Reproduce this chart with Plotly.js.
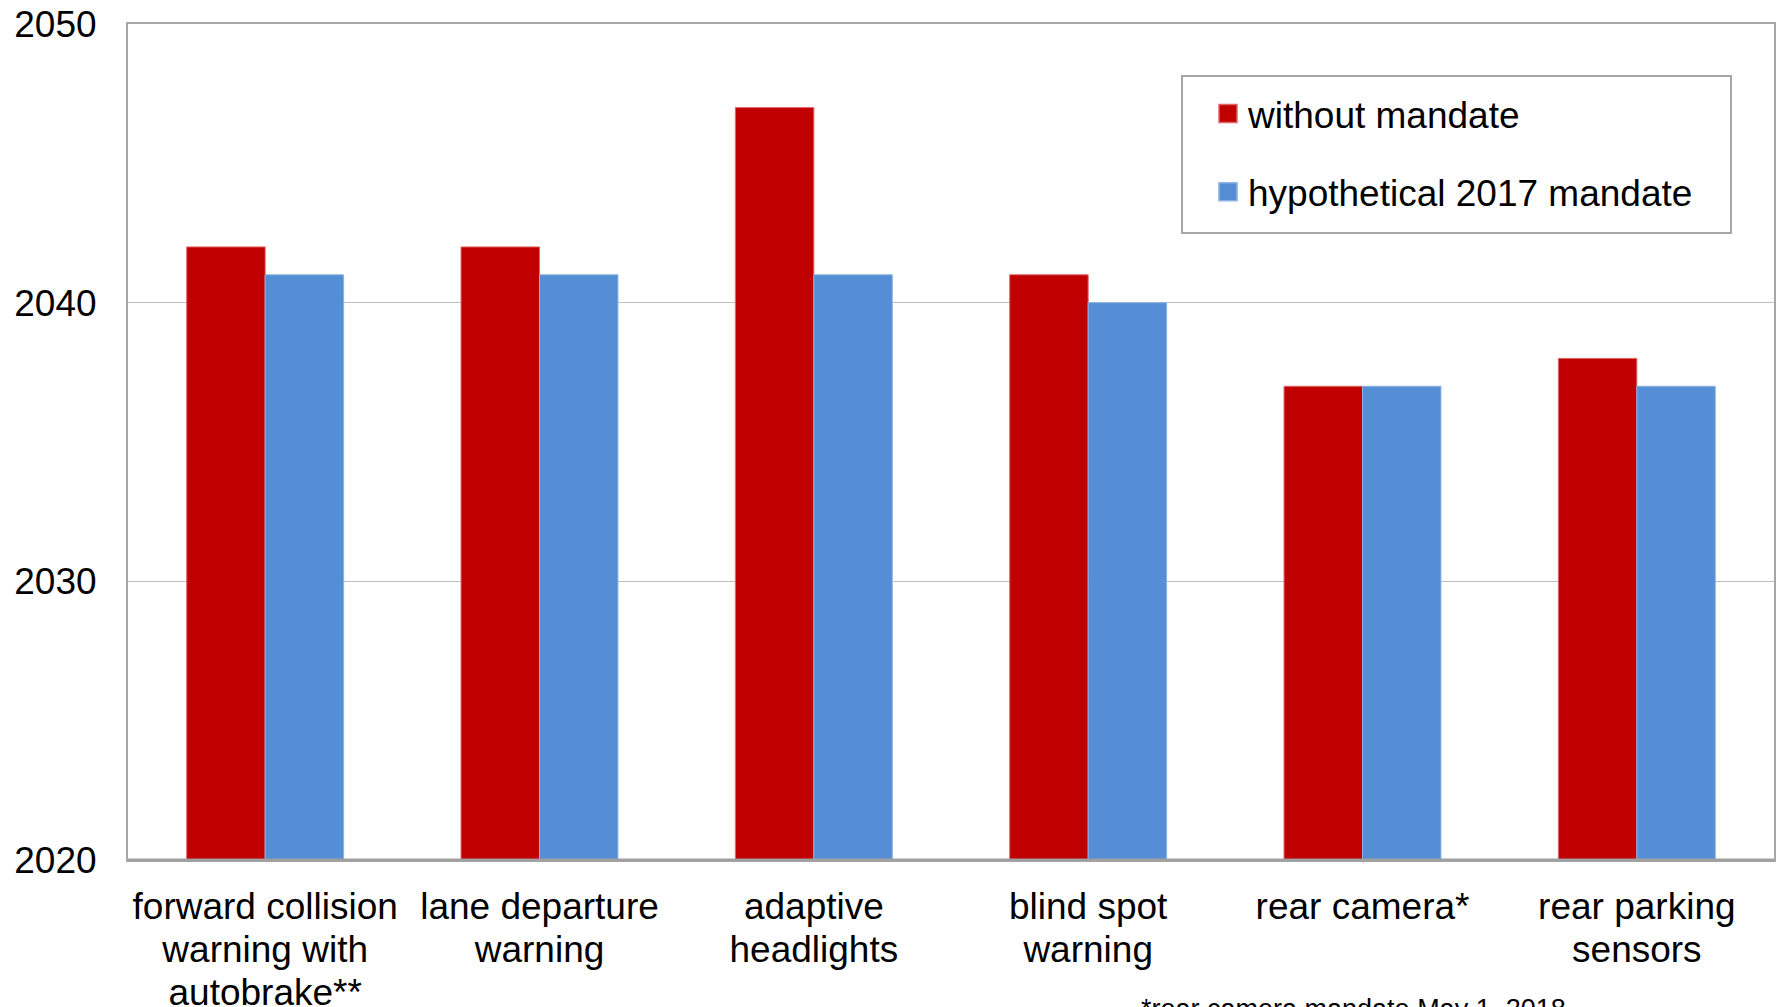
<!DOCTYPE html>
<html>
<head>
<meta charset="utf-8">
<script src="https://cdn.plot.ly/plotly-3.0.1.min.js"></script>
<style>html,body{margin:0;padding:0;background:#fff;}#chart{width:1781px;height:1007px;}</style>
</head>
<body>
<div id="chart"></div>
<script>
const categories = [
  "forward collision<br>warning with<br>autobrake**",
  "lane departure<br>warning",
  "adaptive<br>headlights",
  "blind spot<br>warning",
  "rear camera*",
  "rear parking<br>sensors"
];
const withoutMandate = [2042, 2042, 2047, 2041, 2037, 2038];
const hypothetical2017 = [2041, 2041, 2041, 2040, 2037, 2037];
const seriesNames = ["without mandate", "hypothetical 2017 mandate"];
const yTicks = [2020, 2030, 2040, 2050];
const footnote = "*rear camera mandate May 1, 2018";

const FONT = "Arial, 'Liberation Sans', sans-serif";
const W = 1781, H = 1007, ML = 128, MR = 7, MT = 24, MB = 147;
const PW = W - ML - MR, PH = H - MT - MB;
const px = v => (v - ML) / PW;
const py = v => (H - MB - v) / PH;

const traces = [
  {
    type: "bar", name: seriesNames[0], x: categories, y: withoutMandate,
    marker: {color: "#C00000", line: {color: "#E06666", width: 1}},
    legendgroup: "a", hoverinfo: "y"
  },
  {
    type: "bar", name: seriesNames[1], x: categories, y: hypothetical2017,
    marker: {color: "#558ED5", line: {color: "#8DB4E2", width: 1}},
    legendgroup: "b", hoverinfo: "y"
  }
];

const layout = {
  width: W, height: H,
  margin: {l: ML, r: MR, t: MT, b: MB, pad: 0},
  paper_bgcolor: "#ffffff", plot_bgcolor: "#ffffff",
  font: {family: FONT, size: 37, color: "#000000"},
  barmode: "group",
  bargap: 0.428,
  bargroupgap: 0,
  showlegend: true,
  legend: {
    x: px(1208), y: py(83), xanchor: "left", yanchor: "top",
    bgcolor: "rgba(0,0,0,0)", borderwidth: 0,
    font: {family: FONT, size: 37, color: "#000000"},
    traceorder: "grouped", tracegroupgap: 27
  },
  xaxis: {
    type: "category",
    showline: true, mirror: true, linecolor: "#A6A6A6", linewidth: 2,
    ticks: "", showgrid: false,
    tickfont: {family: FONT, size: 37, color: "#000000"},
    ticklabelstandoff: 13,
    fixedrange: true
  },
  yaxis: {
    range: [2020, 2050],
    tickvals: yTicks,
    ticktext: yTicks.map(String),
    showline: true, mirror: true, linecolor: "#A6A6A6", linewidth: 2,
    showgrid: true, gridcolor: "#BFBFBF", gridwidth: 1,
    zeroline: false, ticks: "",
    tickfont: {family: FONT, size: 37, color: "#000000"},
    ticklabelstandoff: 22,
    fixedrange: true
  },
  shapes: [
    {type: "rect", xref: "paper", yref: "paper",
     x0: px(1182), x1: px(1731), y0: py(233), y1: py(76),
     line: {color: "#A6A6A6", width: 2}, fillcolor: "rgba(0,0,0,0)", layer: "below"},
    {type: "line", xref: "paper", yref: "paper", x0: 0, x1: 1, y0: 0, y1: 0,
     line: {color: "#A0A0A0", width: 3}, layer: "above"}
  ],
  annotations: [
    {
      text: footnote, xref: "paper", yref: "paper",
      x: px(1139), y: -0.158, xanchor: "left", yanchor: "top",
      showarrow: false, font: {family: FONT, size: 27, color: "#000000"}
    }
  ]
};

function tweak() {
  const gd = document.getElementById("chart");
  gd.querySelectorAll(".xtick text tspan.line").forEach(t => {
    const dy = t.getAttribute("dy");
    if (dy && /em$/.test(dy)) {
      t.setAttribute("dy", (parseFloat(dy) * 1.16 / 1.3) + "em");
    }
  });
  gd.querySelectorAll(".legend .legendpoints path").forEach(p => {
    const tr = p.getAttribute("transform") || "";
    if (!/scale/.test(tr)) p.setAttribute("transform", tr + " scale(1.5)");
  });
}

Plotly.newPlot("chart", traces, layout, {displayModeBar: false, staticPlot: true}).then(tweak);
</script>
</body>
</html>
